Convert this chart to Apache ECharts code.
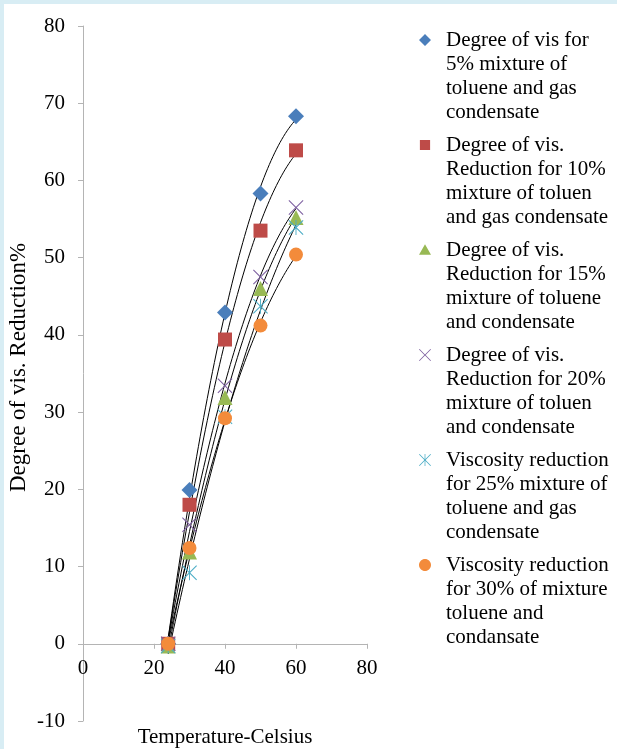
<!DOCTYPE html>
<html>
<head>
<meta charset="utf-8">
<script src="https://cdn.jsdelivr.net/npm/echarts@6/dist/echarts.min.js"></script>
<style>
  html, body { margin: 0; padding: 0; background: #d8edf4; }
  #main { position: absolute; left: 4px; top: 4px; width: 613px; height: 745px; background: #fff; }
</style>
</head>
<body>
<div id="main"></div>
<script>
// 数据
var temps = [24, 30, 40, 50, 60];
var names = [
  'Degree of vis for\n5% mixture of\ntoluene and gas\ncondensate',
  'Degree of vis.\nReduction for 10%\nmixture of toluen\nand gas condensate',
  'Degree of vis.\nReduction for 15%\nmixture of toluene\nand condensate',
  'Degree of vis.\nReduction for 20%\nmixture of toluen\nand condensate',
  'Viscosity reduction\nfor 25% mixture of\ntoluene and gas\ncondensate',
  'Viscosity reduction\nfor 30% of mixture\ntoluene and\ncondansate'
];
var mix5  = [0, 19.9, 42.9, 58.3, 68.3];
var mix10 = [0, 18.0, 39.4, 53.5, 63.9];
var mix15 = [-0.3, 11.9, 31.9, 46.0, 55.2];
var mix20 = [0, 15.4, 33.4, 47.5, 56.5];
var mix25 = [-0.3, 9.2, 29.4, 43.7, 53.9];
var mix30 = [0, 12.4, 29.2, 41.2, 50.4];
var allValues = [mix5, mix10, mix15, mix20, mix25, mix30];

var colors = ['#4a7ebb', '#be4b48', '#98b954', '#7d5fa0', '#4aacc5', '#f38b3b'];

// 标记形状（单位坐标 -1..1）
var crossPts = [[-1,-0.9],[-0.9,-1],[0,-0.1],[0.9,-1],[1,-0.9],[0.1,0],[1,0.9],[0.9,1],[0,0.1],[-0.9,1],[-1,0.9],[-0.1,0]];
var barPts = [[-0.06,-1],[0.06,-1],[0.06,1],[-0.06,1]];
var circlePts = [];
for (var a = 0; a < 32; a++) {
  circlePts.push([Math.cos(a / 32 * Math.PI * 2), Math.sin(a / 32 * Math.PI * 2)]);
}
var shapes = [
  [[[0,-1],[1,0],[0,1],[-1,0]]],
  [[[-0.85,-0.85],[0.85,-0.85],[0.85,0.85],[-0.85,0.85]]],
  [[[0,-0.95],[1,0.8],[-1,0.8]]],
  [crossPts],
  [crossPts, barPts],
  [circlePts]
];

function shapePath(polys, cx, cy, r) {
  return polys.map(function (pts) {
    return 'M' + pts.map(function (p) {
      return (cx + p[0] * r).toFixed(2) + ',' + (cy + p[1] * r).toFixed(2);
    }).join(' L') + ' Z';
  }).join(' ');
}

// 图例图标：图形放在第一行，高度与四行文字相同
var iconW = 14, iconH = 96;
function legendIcon(i) {
  return 'path://' + shapePath(shapes[i], 7, 12, 6) +
    ' M0,0 L0,0 Z M' + iconW + ',' + iconH + ' L' + iconW + ',' + iconH + ' Z';
}
var symbols = ['diamond', 'rect', 'triangle',
  'path://' + shapePath(shapes[3], 10, 10, 10),
  'path://' + shapePath(shapes[4], 10, 10, 10),
  'circle'];
var sizes = [16, 14, 15, 15, 15, 14];

// 二次多项式拟合（趋势线）
function quadFit(xs, ys) {
  var n = xs.length, s = [0, 0, 0, 0, 0], t = [0, 0, 0];
  for (var i = 0; i < n; i++) {
    var x = xs[i], p = 1;
    for (var k = 0; k < 5; k++) { s[k] += p; if (k < 3) t[k] += p * ys[i]; p *= x; }
  }
  var A = [[s[0], s[1], s[2], t[0]], [s[1], s[2], s[3], t[1]], [s[2], s[3], s[4], t[2]]];
  for (var c = 0; c < 3; c++) {
    for (var r = c + 1; r < 3; r++) {
      var f = A[r][c] / A[c][c];
      for (var j = c; j < 4; j++) A[r][j] -= f * A[c][j];
    }
  }
  var b = [0, 0, 0];
  for (var r2 = 2; r2 >= 0; r2--) {
    var v = A[r2][3];
    for (var j2 = r2 + 1; j2 < 3; j2++) v -= A[r2][j2] * b[j2];
    b[r2] = v / A[r2][r2];
  }
  return b;
}

var series = [];
allValues.forEach(function (vals, i) {
  var c = quadFit(temps, vals);
  var line = [];
  for (var x = temps[0]; x <= temps[temps.length - 1]; x += 0.5) {
    line.push([x, c[0] + c[1] * x + c[2] * x * x]);
  }
  series.push({
    name: 'trend' + i,
    type: 'line',
    data: line,
    showSymbol: false,
    silent: true,
    lineStyle: { color: '#000', width: 1 },
    z: 1
  });
});
allValues.forEach(function (vals, i) {
  series.push({
    name: names[i],
    type: 'scatter',
    data: temps.map(function (t, k) { return [t, vals[k]]; }),
    symbol: symbols[i],
    symbolSize: sizes[i],
    itemStyle: { color: colors[i], opacity: 1 },
    z: 3
  });
});

var font = 'Liberation Serif';
var gridTop = 22, gridBottom = 28, chartH = 745;
// x 轴放在 y=0 处（y 范围 -10..80）
var zeroOffset = -(chartH - gridTop - gridBottom) * 10 / 90;

var myChart = echarts.init(document.getElementById('main'));
var option = {
  animation: false,
  grid: { left: 79, right: 250, top: gridTop, bottom: gridBottom, outerBoundsMode: 'none' },
  legend: {
    data: names.map(function (n, i) { return { name: n, icon: legendIcon(i) }; }),
    orient: 'vertical',
    left: 414,
    top: 24,
    padding: 0,
    itemGap: 9,
    itemWidth: iconW,
    itemHeight: iconH,
    selectedMode: false,
    textStyle: {
      fontFamily: font, fontSize: 21, color: '#000', lineHeight: 24,
      padding: [0, 0, 0, 9]
    }
  },
  xAxis: {
    type: 'value',
    min: 0, max: 80, interval: 20,
    offset: zeroOffset,
    name: 'Temperature-Celsius',
    nameLocation: 'middle',
    nameGap: 83,
    nameTextStyle: { fontFamily: font, fontSize: 21, color: '#000' },
    axisLine: { onZero: false, lineStyle: { color: '#b4b4b4' } },
    axisTick: { show: true, length: 5, lineStyle: { color: '#b4b4b4' } },
    axisLabel: { fontFamily: font, fontSize: 21, color: '#000', margin: 14 },
    splitLine: { show: false }
  },
  yAxis: {
    type: 'value',
    min: -10, max: 80, interval: 10,
    name: 'Degree of vis. Reduction%',
    nameLocation: 'middle',
    nameRotate: 90,
    nameGap: 53,
    nameTextStyle: { fontFamily: font, fontSize: 23, color: '#000', padding: [0, 0, 0, 12] },
    axisLine: { show: true, lineStyle: { color: '#b4b4b4' } },
    axisTick: { show: true, length: 5, lineStyle: { color: '#b4b4b4' } },
    axisLabel: { fontFamily: font, fontSize: 21, color: '#000', margin: 18 },
    splitLine: { show: false }
  },
  series: series
};
myChart.setOption(option);
</script>
</body>
</html>
